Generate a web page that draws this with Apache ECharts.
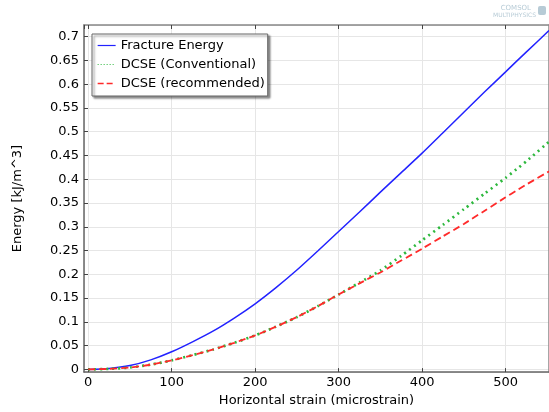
<!DOCTYPE html>
<html><head><meta charset="utf-8">
<script src="https://cdn.jsdelivr.net/npm/echarts@6/dist/echarts.min.js"></script>
<style>html,body{margin:0;padding:0;background:#fff}#c{width:549px;height:412px}</style>
</head><body><div id="c"></div>
<script>
const strain = [0, 25, 50, 75, 100, 125, 150, 175, 200, 225, 250, 275, 300, 325, 350, 375, 400, 425, 450, 475, 500, 513, 525, 552];
const fractureEnergy = [0, 0.002, 0.008, 0.02, 0.037, 0.058, 0.081, 0.108, 0.138, 0.172, 0.209, 0.249, 0.290, 0.331, 0.373, 0.414, 0.455, 0.498, 0.541, 0.584, 0.626, 0.648, 0.668, 0.713];
const dcseConventional = [0, 0.001, 0.004, 0.010, 0.019, 0.030, 0.042, 0.056, 0.0714, 0.090, 0.110, 0.133, 0.1576, 0.1825, 0.208, 0.239, 0.2717, 0.304, 0.337, 0.370, 0.403, 0.421, 0.438, 0.479];
const dcseRecommended = [0, 0.001, 0.004, 0.010, 0.019, 0.030, 0.042, 0.056, 0.0714, 0.090, 0.110, 0.133, 0.1576, 0.181, 0.204, 0.229, 0.254, 0.280, 0.306, 0.334, 0.362, 0.376, 0.389, 0.4166];
const seriesNames = ['Fracture Energy', 'DCSE (Conventional)', 'DCSE (recommended)'];
const xTitle = 'Horizontal strain (microstrain)';
const yTitle = 'Energy [kJ/m^3]';

const pairs = arr => strain.map((x, i) => [x, arr[i]]);
const font = 'DejaVu Sans';
const chart = echarts.init(document.getElementById('c'));
const xmin = -5, xmax = 552, ymin = -0.0057, ymax = 0.7246;
const fmtY = v => {
  if (Math.abs(v * 20 - Math.round(v * 20)) > 1e-6) return '';
  return String(Number((Math.round(v * 100) / 100).toFixed(2)));
};
const colors = ['#2222ff', '#2db83d', '#ff2a2a'];
chart.setOption({
  animation: false,
  textStyle: { fontFamily: font },
  grid: { left: 84, top: 25, right: 0, bottom: 39, containLabel: false },
  xAxis: [{
    type: 'value', min: xmin, max: xmax, splitNumber: 5,
    name: xTitle, nameLocation: 'middle', nameGap: 18,
    nameTextStyle: { fontFamily: font, fontSize: 13, color: '#000' },
    axisLine: { onZero: false, lineStyle: { color: '#666', width: 1.5 } },
    axisTick: { inside: true, length: 4, lineStyle: { color: '#444' } },
    axisLabel: { fontFamily: font, fontSize: 13, color: '#000', margin: 4, showMinLabel: false, showMaxLabel: false,
      formatter: v => (Math.abs(v % 100) < 1e-6 ? String(v) : '') },
    splitLine: { show: true, lineStyle: { color: '#e6e6e6', width: 1 } }
  }, {
    type: 'value', min: xmin, max: xmax, splitNumber: 5, position: 'top',
    axisLine: { onZero: false, lineStyle: { color: '#888', width: 1.5 } },
    axisTick: { inside: true, length: 4, lineStyle: { color: '#444' } },
    axisLabel: { show: false }, splitLine: { show: false }
  }],
  yAxis: [{
    type: 'value', min: ymin, max: ymax, splitNumber: 15,
    name: yTitle, nameLocation: 'middle', nameGap: 60,
    nameTextStyle: { fontFamily: font, fontSize: 13, color: '#000' },
    axisLine: { show: true, onZero: false, lineStyle: { color: '#666', width: 1.5 } },
    axisTick: { show: true, inside: true, length: 4, lineStyle: { color: '#444' } },
    axisLabel: { fontFamily: font, fontSize: 13, color: '#000', margin: 5, showMinLabel: false, showMaxLabel: false, formatter: fmtY },
    splitLine: { show: true, lineStyle: { color: '#e6e6e6', width: 1 } }
  }, {
    type: 'value', min: ymin, max: ymax, splitNumber: 15, position: 'right',
    axisLine: { show: true, onZero: false, lineStyle: { color: '#888', width: 1.5 } },
    axisTick: { show: false }, axisLabel: { show: false }, splitLine: { show: false }
  }],
  legend: {
    left: 92, top: 34, orient: 'vertical', itemWidth: 18, itemHeight: 14, itemGap: 6,
    padding: [5, 3, 6, 5], backgroundColor: '#fff', borderColor: '#666', borderWidth: 1,
    shadowColor: 'rgba(0,0,0,0.45)', shadowBlur: 2, shadowOffsetX: 2, shadowOffsetY: 2,
    textStyle: { fontFamily: font, fontSize: 13, color: '#000' },
    itemStyle: { opacity: 0 },
    data: [
      { name: seriesNames[0], lineStyle: { width: 1.2 } },
      { name: seriesNames[1], lineStyle: { width: 1, type: [1, 2] } },
      { name: seriesNames[2], lineStyle: { width: 1.3, type: [6, 3] } }
    ]
  },
  graphic: [
    { type: 'text', right: 18, top: 5, style: { text: 'COMSOL', font: '7px "DejaVu Sans"', fill: '#b7cbd6' } },
    { type: 'text', right: 13, top: 12, style: { text: 'MULTIPHYSICS', font: '6px "DejaVu Sans"', fill: '#b7cbd6' } },
    { type: 'rect', right: 3, top: 6, shape: { width: 8, height: 9, r: 2 }, style: { fill: '#b7cbd6' } }
  ],
  series: [
    { name: seriesNames[0], type: 'line', symbol: 'none', smooth: 0.2, data: pairs(fractureEnergy), color: colors[0],
      itemStyle: { color: colors[0] }, lineStyle: { color: colors[0], width: 1.5 }, z: 3 },
    { name: seriesNames[1], type: 'line', symbol: 'none', smooth: 0.2, data: pairs(dcseConventional), color: colors[1],
      itemStyle: { color: colors[1] }, lineStyle: { color: colors[1], width: 2.7, type: [2, 4] }, z: 4 },
    { name: seriesNames[2], type: 'line', symbol: 'none', smooth: 0.2, data: pairs(dcseRecommended), color: colors[2],
      itemStyle: { color: colors[2] }, lineStyle: { color: colors[2], width: 1.8, type: [7, 4] }, z: 5 }
  ]
});
</script></body></html>
